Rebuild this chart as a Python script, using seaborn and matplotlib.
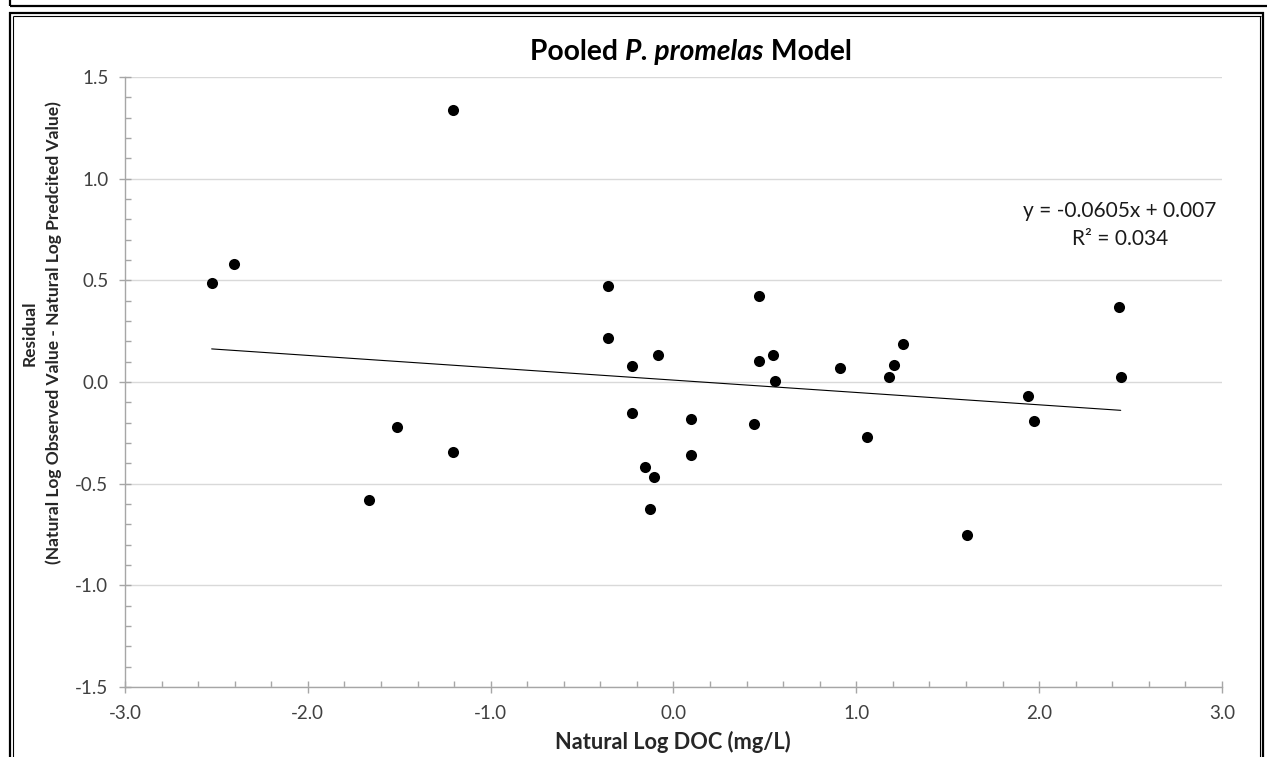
import numpy as np
import pandas as pd
import matplotlib
matplotlib.use("Agg")
import matplotlib.pyplot as plt
from matplotlib.lines import Line2D
from matplotlib.ticker import MultipleLocator, FormatStrFormatter
import seaborn as sns

# ---- data ----
ln_doc = [-2.526, -2.404, -1.206, -1.515, -1.208, -1.665,
          -0.359, -0.359, -0.228, -0.086, -0.228, 0.093, 0.093,
          -0.155, -0.105, -0.129, 0.468, 0.468, 0.546, 0.554,
          0.441, 0.911, 1.058, 1.180, 1.206, 1.253,
          2.437, 2.446, 1.938, 1.973, 1.604]
residual = [0.485, 0.580, 1.339, -0.223, -0.344, -0.580,
            0.472, 0.218, 0.080, 0.133, -0.152, -0.180, -0.361,
            -0.418, -0.467, -0.623, 0.423, 0.105, 0.133, 0.005,
            -0.208, 0.067, -0.269, 0.023, 0.085, 0.187,
            0.370, 0.023, -0.067, -0.190, -0.753]
x_ticks = [-3.0, -2.0, -1.0, 0.0, 1.0, 2.0, 3.0]
y_ticks = [-1.5, -1.0, -0.5, 0.0, 0.5, 1.0, 1.5]
title_parts = ["Pooled ", "P. promelas", " Model"]
x_label = "Natural Log DOC (mg/L)"
y_label = "Residual\n(Natural Log Observed Value - Natural Log Predcited Value)"
eq_text = "y = -0.0605x + 0.007"
r2_text = "R\u00b2 = 0.034"

df = pd.DataFrame({"x": ln_doc, "y": residual})

sns.set_theme(style="white")
plt.rcParams["font.family"] = ["Lato", "DejaVu Sans"]

W, H = 1267, 757
fig = plt.figure(figsize=(W / 100, H / 100), dpi=100)
ax = fig.add_axes([125 / W, 1 - 687 / H, (1222 - 125) / W, (687 - 77) / H])

sns.regplot(data=df, x="x", y="y", ax=ax, ci=None, truncate=True,
            scatter_kws=dict(s=64, color="black", edgecolor="black", linewidths=0,
                             alpha=1.0, zorder=3),
            line_kws=dict(color="black", lw=0.8, zorder=2))

ax.set_xlim(-3, 3)
ax.set_ylim(-1.5, 1.5)
ax.set_xticks(x_ticks)
ax.set_yticks(y_ticks)
ax.xaxis.set_minor_locator(MultipleLocator(0.2))
ax.yaxis.set_minor_locator(MultipleLocator(0.1))
ax.xaxis.set_major_formatter(FormatStrFormatter("%.1f"))
ax.yaxis.set_major_formatter(FormatStrFormatter("%.1f"))
ax.set_xlabel("")
ax.set_ylabel("")

grid_c = "#d9d9d9"
axis_c = "#a6a6a6"
ax.yaxis.grid(True, color=grid_c, lw=1.0, zorder=0)
ax.xaxis.grid(False)
for s in ["top", "right"]:
    ax.spines[s].set_visible(False)
for s in ["left", "bottom"]:
    ax.spines[s].set_color(axis_c)
    ax.spines[s].set_linewidth(1.0)
ax.tick_params(axis="both", which="major", direction="inout", length=8,
               width=1, color=axis_c, labelsize=13.5, labelcolor="#404040")
ax.tick_params(axis="both", which="minor", direction="in", length=4,
               width=1, color=axis_c)
ax.tick_params(axis="x", which="major", pad=9, bottom=True)
ax.tick_params(axis="y", which="major", pad=8, left=True)
ax.tick_params(axis="x", which="minor", bottom=True)
ax.tick_params(axis="y", which="minor", left=True)


def fx(px):
    return px / W


def fy(py):
    return 1 - py / H


# title in three parts
fig.canvas.draw()
renderer = fig.canvas.get_renderer()
styles = [dict(weight="bold", style="normal"),
          dict(weight="bold", style="italic"),
          dict(weight="bold", style="normal")]
texts = []
for part, st in zip(title_parts, styles):
    t = fig.text(0, fy(60), part, fontsize=20.3, va="baseline", ha="left", color="black", **st)
    texts.append(t)
widths = [t.get_window_extent(renderer).width for t in texts]
total = sum(widths)
x0 = 691 - total / 2
for t, w in zip(texts, widths):
    t.set_x(fx(x0))
    x0 += w

fig.text(fx(673), fy(749), x_label, fontsize=15.7, weight="bold", ha="center", va="baseline")
fig.text(fx(41.5), fy(333), y_label, fontsize=12.5, weight="bold", ha="center", va="center",
         rotation=90, multialignment="center", linespacing=1.55)

fig.text(fx(1120), fy(217), eq_text, fontsize=15, ha="center", va="baseline", color="#1a1a1a")
fig.text(fx(1120), fy(245), r2_text, fontsize=15, ha="center", va="baseline", color="#1a1a1a")


# frame borders (pixel positions)
def hline(y, x0, x1, lw):
    fig.add_artist(Line2D([fx(x0), fx(x1)], [fy(y), fy(y)], color="black", lw=lw,
                          transform=fig.transFigure, solid_capstyle="butt"))


def vline(x, y0, y1, lw):
    fig.add_artist(Line2D([fx(x), fx(x)], [fy(y0), fy(y1)], color="black", lw=lw,
                          transform=fig.transFigure, solid_capstyle="butt"))

hline(5.5, 10, W, 1.6)
vline(10, 0, 6, 1.6)
hline(13, 9, 1264, 1.6)
vline(10, 12, H, 1.6)
vline(1263, 12, H, 1.6)
hline(16, 12.5, 1260.5, 0.8)
vline(12.8, 16, H, 0.8)
vline(1260.3, 16, H, 0.8)

fig.savefig("out.png", dpi=100)
